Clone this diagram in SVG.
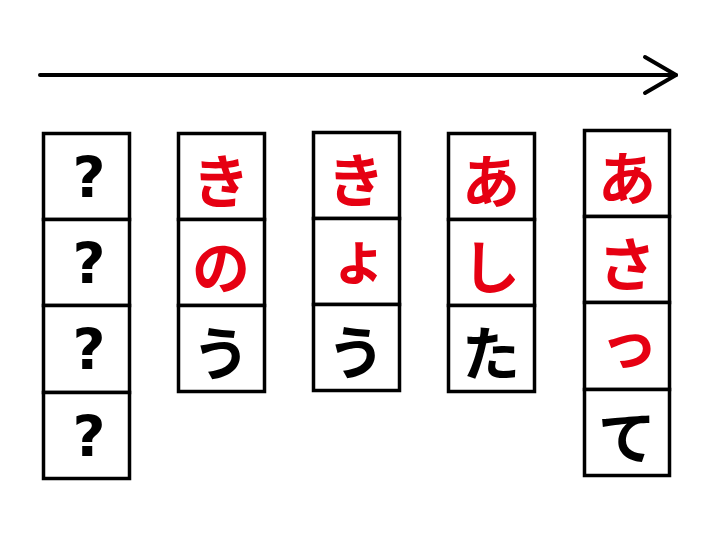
<svg xmlns="http://www.w3.org/2000/svg" width="720" height="540" viewBox="0 0 720 540">
<style>
.cell{fill:#fff;stroke:#000;stroke-width:3.5}
.t{font-family:"Noto Sans CJK JP","Noto Sans",sans-serif;font-weight:bold;font-size:58px;text-anchor:middle;dominant-baseline:central}
.r{fill:#E60012}
.k{fill:#000}
.q{font-family:"DejaVu Sans",sans-serif;font-weight:bold;font-size:57px;text-anchor:middle;dominant-baseline:central;fill:#000}
.arrow{fill:none;stroke:#000;stroke-width:4;stroke-linecap:round;stroke-linejoin:round}
</style>
<rect width="720" height="540" fill="#fff"/>
<g id="connectors">
<path class="arrow" d="M40 75H676"/>
<path class="arrow" d="M645 57L676 75L645 93"/>
</g>
<g id="col-unknown">
<rect class="cell" x="43.5" y="133.5" width="86" height="86"/>
<rect class="cell" x="43.5" y="219.5" width="86" height="86"/>
<rect class="cell" x="43.5" y="305.5" width="86" height="87"/>
<rect class="cell" x="43.5" y="392.5" width="86" height="86"/>
<text class="q" x="89" y="178">?</text>
<text class="q" x="89" y="264">?</text>
<text class="q" x="89" y="350">?</text>
<text class="q" x="89" y="437">?</text>
</g>
<g id="col-kinou">
<rect class="cell" x="178.5" y="133.5" width="86" height="86"/>
<rect class="cell" x="178.5" y="219.5" width="86" height="86"/>
<rect class="cell" x="178.5" y="305.5" width="86" height="86"/>
<text class="t r" x="221" y="178">き</text>
<text class="t r" x="221" y="264">の</text>
<text class="t k" x="221" y="350">う</text>
</g>
<g id="col-kyou">
<rect class="cell" x="313.5" y="132.5" width="86" height="86"/>
<rect class="cell" x="313.5" y="218.5" width="86" height="86"/>
<rect class="cell" x="313.5" y="304.5" width="86" height="86"/>
<text class="t r" x="356" y="177">き</text>
<text class="t r" x="359" y="254">ょ</text>
<text class="t k" x="356" y="349">う</text>
</g>
<g id="col-ashita">
<rect class="cell" x="448.5" y="133.5" width="86" height="86"/>
<rect class="cell" x="448.5" y="219.5" width="86" height="86"/>
<rect class="cell" x="448.5" y="305.5" width="86" height="86"/>
<text class="t r" x="491" y="178">あ</text>
<text class="t r" x="491" y="264">し</text>
<text class="t k" x="491" y="350">た</text>
</g>
<g id="col-asatte">
<rect class="cell" x="584.5" y="130.5" width="85" height="86"/>
<rect class="cell" x="584.5" y="216.5" width="85" height="86"/>
<rect class="cell" x="584.5" y="302.5" width="85" height="87"/>
<rect class="cell" x="584.5" y="389.5" width="85" height="86"/>
<text class="t r" x="627" y="175">あ</text>
<text class="t r" x="627" y="261">さ</text>
<text class="t r" x="629" y="340">っ</text>
<text class="t k" x="627" y="434">て</text>
</g>
</svg>
